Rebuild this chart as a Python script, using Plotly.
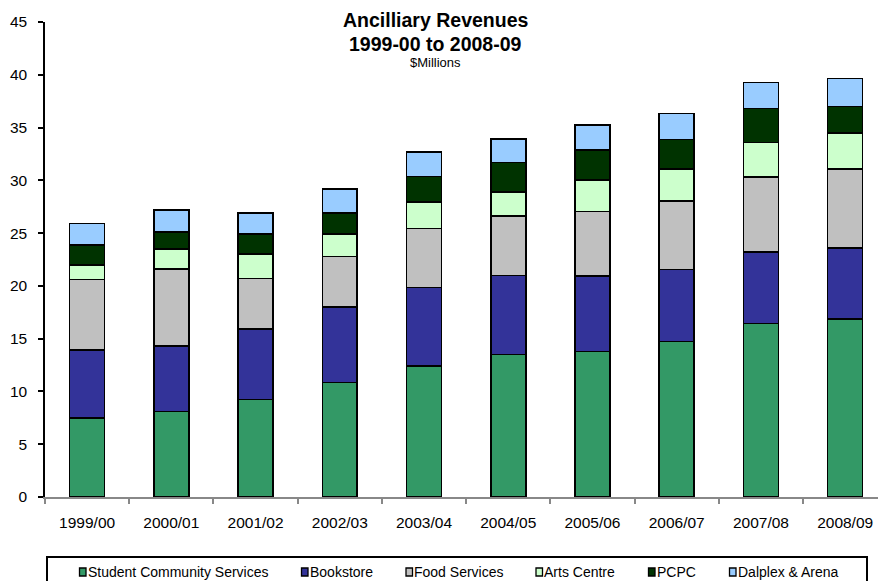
import plotly.graph_objects as go

years = ["1999/00", "2000/01", "2001/02", "2002/03", "2003/04",
         "2004/05", "2005/06", "2006/07", "2007/08", "2008/09"]

student_community_services = [7.5, 8.1, 9.25, 10.85, 12.4, 13.5, 13.8, 14.75, 16.45, 16.85]
bookstore = [6.4, 6.2, 6.65, 7.15, 7.45, 7.5, 7.15, 6.8, 6.75, 6.75]
food_services = [6.7, 7.3, 4.8, 4.8, 5.6, 5.6, 6.1, 6.5, 7.1, 7.5]
arts_centre = [1.4, 1.9, 2.3, 2.1, 2.5, 2.3, 3.0, 3.0, 3.3, 3.4]
pcpc = [1.9, 1.6, 1.9, 2.0, 2.4, 2.8, 2.8, 2.8, 3.2, 2.5]
dalplex_arena = [2.0, 2.1, 2.0, 2.3, 2.35, 2.2, 2.4, 2.5, 2.45, 2.65]

series_names = ["Student Community Services", "Bookstore", "Food Services",
                "Arts Centre", "PCPC", "Dalplex & Arena"]
series_values = [student_community_services, bookstore, food_services,
                 arts_centre, pcpc, dalplex_arena]
series_colors = ["#339966", "#333399", "#C0C0C0", "#CCFFCC", "#003300", "#99CCFF"]

font_family = "Liberation Sans, Arial, sans-serif"

fig = go.Figure()
for name, vals, col in zip(series_names, series_values, series_colors):
    fig.add_trace(go.Bar(
        x=years, y=vals, name=name,
        marker=dict(color=col, line=dict(color="#000000", width=1.6)),
        showlegend=False,
    ))

W, H = 878, 581
ml, mr, mt, mb = 45, 0, 22, 84
pw, ph = W - ml - mr, H - mt - mb


def px_x(x):
    return (x - ml) / pw


def px_y(y):
    return (H - mb - y) / ph


fig.update_layout(
    width=W, height=H,
    margin=dict(l=ml, r=mr, t=mt, b=mb, autoexpand=False),
    barmode="stack",
    bargap=0.585,
    plot_bgcolor="white",
    paper_bgcolor="white",
    font=dict(family=font_family, color="#000000"),
    showlegend=False,
    xaxis=dict(
        range=[-0.5, 9.39],
        showline=True, linecolor="#888888", linewidth=2,
        ticks="outside", tickson="boundaries", tickcolor="#888888",
        ticklen=5, tickwidth=2,
        tickfont=dict(size=15.5, family=font_family, color="#000000"),
        showgrid=False,
        ticklabelstandoff=10,
    ),
    yaxis=dict(
        range=[0, 45], tickvals=[0, 5, 10, 15, 20, 25, 30, 35, 40, 45],
        showline=True, linecolor="#000000", linewidth=1.5,
        ticks="outside", tickcolor="#000000", ticklen=5, tickwidth=1.5,
        tickfont=dict(size=15.5, family=font_family, color="#000000"),
        showgrid=False, zeroline=False,
        ticklabelstandoff=8,
    ),
)

# Title block
title_x = px_x(435)
fig.add_annotation(text="<b>Ancilliary Revenues</b>", xref="paper", yref="paper",
                   x=title_x, y=px_y(20), xanchor="center", yanchor="middle",
                   showarrow=False, font=dict(size=19.5, family=font_family, color="#000000"))
fig.add_annotation(text="<b>1999-00 to 2008-09</b>", xref="paper", yref="paper",
                   x=title_x, y=px_y(43.5), xanchor="center", yanchor="middle",
                   showarrow=False, font=dict(size=19.5, family=font_family, color="#000000"))
fig.add_annotation(text="$Millions", xref="paper", yref="paper",
                   x=title_x, y=px_y(62), xanchor="center", yanchor="middle",
                   showarrow=False, font=dict(size=13, family=font_family, color="#000000"))

# Legend box (drawn as shapes + annotations to match the layout)
fig.add_shape(type="rect", xref="paper", yref="paper",
              x0=px_x(47), x1=px_x(867), y0=px_y(557), y1=px_y(590),
              line=dict(color="#000000", width=2), fillcolor="rgba(0,0,0,0)", layer="above")
legend_marker_x = [79.5, 301.5, 406, 536, 648.5, 729.5]
for name, col, lx in zip(series_names, series_colors, legend_marker_x):
    fig.add_shape(type="rect", xref="paper", yref="paper",
                  x0=px_x(lx), x1=px_x(lx + 6.5), y0=px_y(576), y1=px_y(568),
                  line=dict(color="#000000", width=1.3), fillcolor=col, layer="above")
    fig.add_annotation(text=name, xref="paper", yref="paper",
                       x=px_x(lx + 7), y=px_y(572), xanchor="left", yanchor="middle",
                       showarrow=False, borderpad=0,
                       font=dict(size=14, family=font_family, color="#000000"))

fig.write_html("out.html", config={"displayModeBar": False},
               post_script="document.body.style.margin='0';")
